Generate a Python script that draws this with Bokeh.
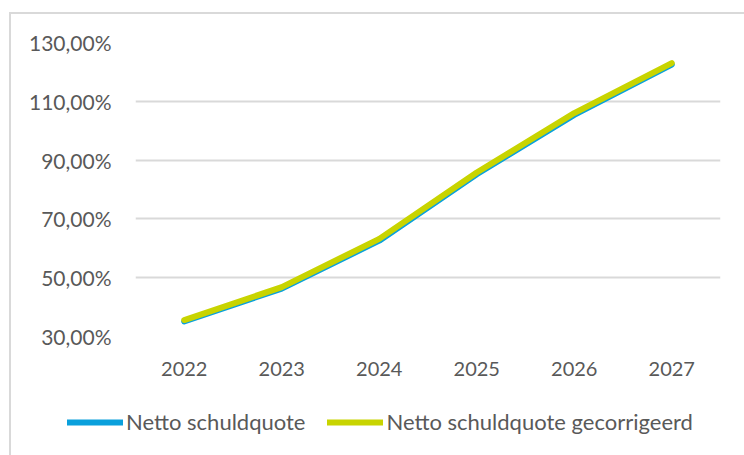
from bokeh.plotting import figure
from bokeh.models import (FactorRange, Range1d, FixedTicker, CustomJSTickFormatter,
                          Legend, LegendItem, InlineStyleSheet)
from bokeh.embed import file_html
from bokeh.resources import INLINE

years = ["2022", "2023", "2024", "2025", "2026", "2027"]
netto_schuldquote = [35.1, 46.3, 62.6, 85.2, 105.4, 122.5]
netto_gecorrigeerd = [35.6, 46.8, 63.2, 85.8, 106.0, 123.0]
y_ticks = [30, 50, 70, 90, 110, 130]
series_names = ["Netto schuldquote", "Netto schuldquote gecorrigeerd"]
series_colors = ["#0aa0dc", "#c8d400"]

FONT = "Lato"
TXT = "#595959"
GRID = "#d9d9d9"

p = figure(width=744, height=395, x_range=FactorRange(*years, range_padding=0),
           y_range=Range1d(30, 130), output_backend="svg", toolbar_location=None,
           min_border_left=135, min_border_right=24, min_border_top=42,
           min_border_bottom=59)
p.title_location = None
p.outline_line_color = None
p.background_fill_color = "white"
p.border_fill_color = "white"

for vals, col in zip([netto_schuldquote, netto_gecorrigeerd], series_colors):
    p.line(years, vals, line_color=col, line_width=6, line_cap="round", line_join="round")

p.xgrid.grid_line_color = None
p.ygrid.grid_line_color = GRID
p.ygrid.grid_line_width = 2
p.yaxis.ticker = FixedTicker(ticks=y_ticks)
p.yaxis.formatter = CustomJSTickFormatter(
    code="return tick.toFixed(2).replace('.', ',') + '%';")
for ax in (p.xaxis[0], p.yaxis[0]):
    ax.axis_line_color = None
    ax.major_tick_line_color = None
    ax.minor_tick_line_color = None
    ax.major_tick_out = 0
    ax.major_tick_in = 0
    ax.major_label_text_font = FONT
    ax.major_label_text_font_size = "20px"
    ax.major_label_text_color = TXT
p.yaxis.major_label_text_font_size = "21px"
p.yaxis.major_label_standoff = 24
p.xaxis.major_label_standoff = 25

p.stylesheets = [InlineStyleSheet(css=""":host::after {content: ''; position: absolute;
 left: 9px; top: 12px; right: -10px; bottom: 0px; border-left: 2px solid #d9d9d9;
 border-top: 2px solid #d9d9d9; pointer-events: none; z-index: 5;}""")]

# legend strip below the chart (separate root, full-width frame)
lg = figure(width=744, height=60, x_range=Range1d(0, 1), y_range=Range1d(0, 1),
            output_backend="svg", toolbar_location=None, min_border=0,
            x_axis_location=None, y_axis_location=None)
lg.title_location = None
lg.grid.visible = False
lg.outline_line_color = None
items = []
for name, col in zip(series_names, series_colors):
    r = lg.line([float("nan")], [float("nan")], line_color=col, line_width=6,
                line_cap="round")
    items.append(LegendItem(label=name, renderers=[r]))
legend = Legend(items=items, orientation="horizontal", location=(67, 20),
                border_line_color=None, background_fill_alpha=0,
                padding=0, margin=0, spacing=22, glyph_width=56, glyph_height=20,
                label_standoff=3, label_text_font=FONT, label_text_font_size="22px",
                label_text_color=TXT)
lg.add_layout(legend, "center")
lg.stylesheets = [InlineStyleSheet(css=""":host::after {content: ''; position: absolute;
 left: 9px; top: 0px; bottom: -10px; border-left: 2px solid #d9d9d9;
 pointer-events: none; z-index: 5;}""")]

open("out.html", "w").write(file_html([p, lg], INLINE))
